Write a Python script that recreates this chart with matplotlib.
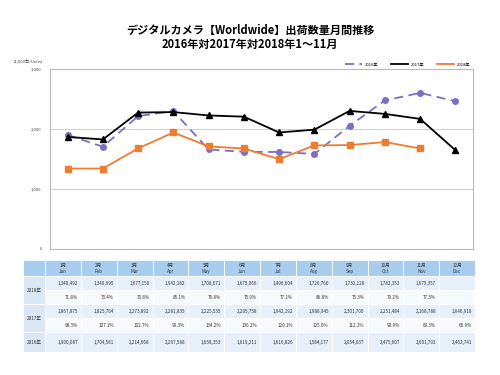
import matplotlib.pyplot as plt
import numpy as np
from matplotlib.patches import Rectangle

plt.rcParams['font.family'] = ['Noto Sans CJK JP', 'DejaVu Sans']

# データ（台数）
months_jp = ['1月', '2月', '3月', '4月', '5月', '6月', '7月', '8月', '9月', '10月', '11月', '12月']
months_en = ['Jan', 'Feb', 'Mar', 'Apr', 'May', 'Jun', 'Jul', 'Aug', 'Sep', 'Oct', 'Nov', 'Dec']
y2018 = [1340492, 1340995, 1677150, 1942182, 1708671, 1675066, 1496604, 1726760, 1732128, 1782353, 1675357]
y2017 = [1867875, 1825764, 2273892, 2281835, 2225535, 2205758, 1942192, 1988945, 2301700, 2251484, 2168788, 1646918]
y2016 = [1900087, 1704581, 2214668, 2297588, 1658353, 1619211, 1616826, 1584177, 2054037, 2475607, 2601792, 2462741]
r2018 = ['71.8%', '73.4%', '73.8%', '85.1%', '76.8%', '75.9%', '77.1%', '86.8%', '75.3%', '79.2%', '77.3%']
r2017 = ['98.3%', '107.1%', '102.7%', '99.3%', '134.2%', '136.2%', '120.1%', '125.6%', '112.1%', '90.9%', '83.3%', '66.9%']

fig = plt.figure(figsize=(5, 3.75), dpi=100)

fig.text(0.5, 0.92, 'デジタルカメラ【Worldwide】出荷数量月間推移', ha='center', va='center',
         fontsize=8, fontweight='bold')
fig.text(0.5, 0.882, '2016年対2017年対2018年1～11月', ha='center', va='center',
         fontsize=8, fontweight='bold')

# グラフ
ax = fig.add_axes([0.1, 0.336, 0.846, 0.48])
x = np.arange(12)
ax.plot(x, np.array(y2016) / 1000, color='#7B6FC4', ls=(0, (5, 3)), lw=1.3,
        marker='o', ms=4, label='2016年')
ax.plot(x, np.array(y2017) / 1000, color='black', lw=1.3,
        marker='^', ms=4, label='2017年')
ax.plot(x[:len(y2018)], np.array(y2018) / 1000, color='#ED7D31', lw=1.3,
        marker='s', ms=4, label='2018年')

ax.set_xlim(-0.5, 11.5)
ax.set_ylim(0, 3000)
ax.set_yticks([0, 1000, 2000, 3000])
ax.set_yticklabels(['0', '1,000', '2,000', '3,000'])
ax.set_xticks([])
ax.tick_params(axis='y', length=0, labelsize=3, pad=6, colors='#444444')
ax.yaxis.grid(True, color='#D0D0D0', lw=0.7)
ax.set_axisbelow(True)
for s in ax.spines.values():
    s.set_color('#BBBBBB')
    s.set_linewidth(0.8)
ax.text(-0.05, 1.03, '(1,000台/Units)', transform=ax.transAxes, fontsize=3,
        ha='center', va='bottom', color='#444444')
ax.legend(loc='lower right', bbox_to_anchor=(1.0, 1.0), ncol=3, frameon=False,
          fontsize=3, handlelength=4, columnspacing=3, markerscale=0.0001,
          borderaxespad=0.2)

# 表
tb = fig.add_axes([0.046, 0.061, 0.904, 0.245])
tb.set_xlim(0, 452)
tb.set_ylim(92, 0)
tb.axis('off')
lab_w = 22
col_w = (452 - lab_w) / 12
row_h = [16, 14, 14, 14, 14, 20]
row_y = np.concatenate([[0], np.cumsum(row_h)])

hdr_c = '#A9CDEE'
lab_c = '#DAE8F6'
val_c = '#E6F0FA'
rat_c = '#F7FAFD'
fs = 3.3

def cell(x0, y0, w, h, c):
    tb.add_patch(Rectangle((x0, y0), w, h, facecolor=c, edgecolor='white', lw=0.6))

# ヘッダ
cell(0, row_y[0], lab_w, row_h[0], hdr_c)
for i in range(12):
    x0 = lab_w + i * col_w
    cell(x0, row_y[0], col_w, row_h[0], hdr_c)
    tb.text(x0 + col_w / 2, row_y[0] + 5, months_jp[i], ha='center', va='center', fontsize=fs, color='#333333')
    tb.text(x0 + col_w / 2, row_y[0] + 11, months_en[i], ha='center', va='center', fontsize=fs, color='#333333')

rows = [('2018年', [f'{v:,}' for v in y2018], r2018),
        ('2017年', [f'{v:,}' for v in y2017], r2017)]
for k, (name, vals, rats) in enumerate(rows):
    ri = 1 + 2 * k
    cell(0, row_y[ri], lab_w, row_h[ri] + row_h[ri + 1], lab_c)
    tb.text(lab_w / 2, row_y[ri] + row_h[ri], name, ha='center', va='center', fontsize=fs, color='#333333')
    for i in range(12):
        x0 = lab_w + i * col_w
        cell(x0, row_y[ri], col_w, row_h[ri], val_c)
        cell(x0, row_y[ri + 1], col_w, row_h[ri + 1], rat_c)
        if i < len(vals):
            tb.text(x0 + col_w - 3, row_y[ri] + row_h[ri] / 2, vals[i], ha='right', va='center',
                    fontsize=fs, color='#333333')
        if i < len(rats):
            tb.text(x0 + col_w - 3, row_y[ri + 1] + row_h[ri + 1] / 2, rats[i], ha='right', va='center',
                    fontsize=fs, color='#333333')

ri = 5
cell(0, row_y[ri], lab_w, row_h[ri], lab_c)
tb.text(lab_w / 2, row_y[ri] + row_h[ri] / 2, '2016年', ha='center', va='center', fontsize=fs, color='#333333')
for i in range(12):
    x0 = lab_w + i * col_w
    cell(x0, row_y[ri], col_w, row_h[ri], val_c)
    tb.text(x0 + col_w - 3, row_y[ri] + row_h[ri] / 2, f'{y2016[i]:,}', ha='right', va='center',
            fontsize=fs, color='#333333')

fig.savefig('out.png', dpi=100)
